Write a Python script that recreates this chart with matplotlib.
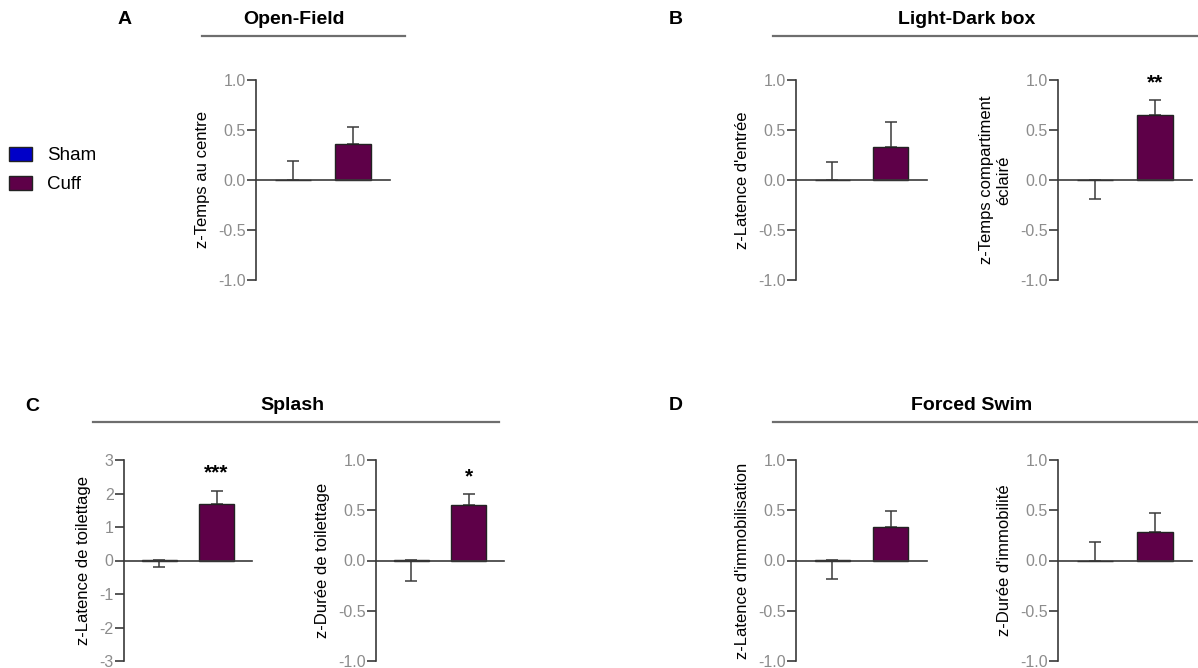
import matplotlib
matplotlib.use('Agg')
import matplotlib.pyplot as plt
from matplotlib.lines import Line2D
import numpy as np

plt.rcParams['font.family'] = ['Liberation Sans', 'DejaVu Sans']
plt.rcParams['axes.unicode_minus'] = False

# ---- data (z-scores, mean and one-sided SEM) ----
groups = ['Sham', 'Cuff']
ylabels = ['z-Temps au centre',
           "z-Latence d'entrée",
           'z-Temps compartiment\néclairé',
           'z-Latence de toilettage',
           'z-Durée de toilettage',
           "z-Latence d'immobilisation",
           "z-Durée d'immobilité"]
sham_mean = [0.0, 0.0, 0.005, 0.02, 0.005, 0.005, 0.0]
sham_err = [0.19, 0.18, -0.19, -0.22, -0.205, -0.185, 0.18]   # sign = direction of the bar
cuff_mean = [0.36, 0.33, 0.65, 1.70, 0.55, 0.33, 0.28]
cuff_err = [0.17, 0.25, 0.15, 0.38, 0.11, 0.16, 0.19]
stars = ['', '', '**', '***', '*', '', '']
star_y = [None, None, 0.97, 2.62, 0.83, None, None]
ylims = [1, 1, 1, 3, 1, 1, 1]

section_letters = ['A', 'B', 'C', 'D']
section_titles = ['Open-Field', 'Light-Dark box', 'Splash', 'Forced Swim']

# ---- layout in pixels (left, right, top, bottom) ----
W, H = 1198, 668
boxes = [(256, 390, 80, 280),
         (796, 927, 80, 280),
         (1058, 1192, 80, 280),
         (124, 252, 460, 661),
         (376, 504, 460, 661),
         (796, 927, 460, 661),
         (1058, 1192, 460, 661)]
# title centre x, title y, underline x0, x1, underline y, letter x, letter y
sections = [(294, 20, 202, 405, 36, 125, 20),
            (967, 20, 773, 1198, 36, 676, 19),
            (292, 405, 93, 499, 422, 32, 407),
            (972, 405, 773, 1198, 422, 676, 405)]

sham_color = '#0000C8'
cuff_color = '#5E0048'
axis_color = '#3a3a3a'
tick_color = '#8c8c8c'

fig = plt.figure(figsize=(W / 100, H / 100), dpi=100)

handles = None
for i in range(len(ylabels)):
    l, r, t, b = boxes[i]
    ax = fig.add_axes([l / W, 1 - b / H, (r - l) / W, (b - t) / H])
    x = np.arange(len(groups))
    vals = [sham_mean[i], cuff_mean[i]]
    errs = [sham_err[i], cuff_err[i]]
    lo = [-e if e < 0 else 0 for e in errs]
    hi = [e if e > 0 else 0 for e in errs]
    ax.errorbar(x, vals, yerr=[lo, hi], fmt='none', ecolor=axis_color,
                elinewidth=1.1, capsize=4, capthick=1.1, zorder=1)
    bars = ax.bar(x, vals, width=0.6, color=[sham_color, cuff_color],
                  edgecolor='#222222', linewidth=1.0, zorder=2)
    if handles is None:
        handles = list(bars.patches)

    lim = ylims[i]
    ax.set_ylim(-lim, lim)
    ax.set_xlim(-0.62, 1.62)
    if lim == 1:
        ax.set_yticks([-1.0, -0.5, 0.0, 0.5, 1.0])
        ax.set_yticklabels(['-1.0', '-0.5', '0.0', '0.5', '1.0'])
    else:
        ax.set_yticks(np.arange(-lim, lim + 1))
    ax.set_xticks([])

    for s in ['top', 'right']:
        ax.spines[s].set_visible(False)
    ax.spines['bottom'].set_position(('data', 0))
    for s in ['left', 'bottom']:
        ax.spines[s].set_color(axis_color)
        ax.spines[s].set_linewidth(1.2)
    ax.tick_params(axis='y', direction='out', length=6.5, width=1.2,
                   color=axis_color, labelcolor=tick_color, labelsize=11.5, pad=1)
    ax.set_ylabel(ylabels[i], fontsize=12, labelpad=6)
    ax.patch.set_visible(False)

    if stars[i]:
        ax.text(1, star_y[i], stars[i], ha='center', va='center',
                fontsize=15, fontweight='bold')

# section titles, underlines and letters
for k, (tx, ty, x0, x1, uy, lx, ly) in enumerate(sections):
    fig.text(tx / W, 1 - ty / H, section_titles[k], ha='center', va='center',
             fontsize=14, fontweight='bold')
    fig.add_artist(Line2D([x0 / W, x1 / W], [1 - uy / H, 1 - uy / H],
                          color='#6e6e6e', linewidth=1.6))
    fig.text(lx / W, 1 - ly / H, section_letters[k], ha='center', va='center',
             fontsize=14, fontweight='bold')

fig.legend(handles, groups, loc='center left', bbox_to_anchor=(5 / W, 1 - 170 / H),
           frameon=False, fontsize=13.5, handlelength=1.25, handleheight=0.8,
           handletextpad=0.8, labelspacing=0.6, borderaxespad=0.0, borderpad=0.2)

plt.savefig('out.png', dpi=100)
plt.close()
